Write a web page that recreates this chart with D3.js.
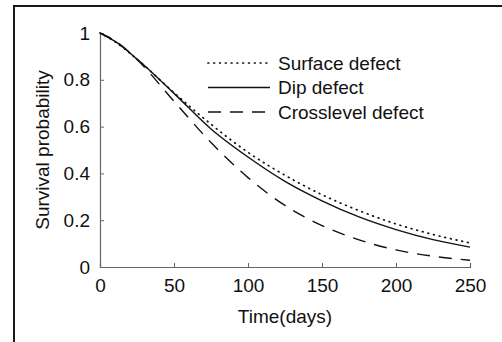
<!DOCTYPE html>
<html>
<head>
<meta charset="utf-8">
<script src="https://cdn.jsdelivr.net/npm/d3@7"></script>
<style>
  body { margin: 0; background: #fff; }
  svg text { font-family: Arial, 'Liberation Sans', sans-serif; fill: #111; }
</style>
</head>
<body>
<div id="chart"></div>
<script>
// values
const days = [0, 10, 25, 50, 75, 100, 125, 150, 175, 200, 225, 250]
const surfaceDefect = [1, 0.963, 0.888, 0.745, 0.610, 0.490, 0.392, 0.309, 0.241, 0.184, 0.139, 0.103]
const dipDefect = [1, 0.965, 0.889, 0.742, 0.590, 0.470, 0.366, 0.283, 0.214, 0.160, 0.117, 0.085]
const crosslevelDefect = [1, 0.967, 0.887, 0.708, 0.532, 0.382, 0.263, 0.177, 0.116, 0.073, 0.046, 0.029]
const xTicks = [0, 50, 100, 150, 200, 250]
const yTicks = [0, 0.2, 0.4, 0.6, 0.8, 1]

const series = [
  { name: 'Surface defect', values: surfaceDefect, dash: '0.8,5', cap: 'round', width: 1.7 },
  { name: 'Dip defect', values: dipDefect, dash: null, cap: 'butt', width: 1.4 },
  { name: 'Crosslevel defect', values: crosslevelDefect, dash: '13,9', cap: 'butt', width: 1.4 }
]

const dimensions = {
  width: 502,
  height: 342,
  margin: { top: 33, right: 32, bottom: 75, left: 100 }
}
const innerW = dimensions.width - dimensions.margin.left - dimensions.margin.right
const innerH = dimensions.height - dimensions.margin.top - dimensions.margin.bottom

const svg = d3.select('#chart').append('svg')
  .attr('width', dimensions.width)
  .attr('height', dimensions.height)

// outer frame
svg.append('rect')
  .attr('x', 14).attr('y', 6)
  .attr('width', 600).attr('height', 600)
  .attr('fill', 'none')
  .attr('stroke', '#1a1a1a')
  .attr('stroke-width', 2)

const bounds = svg.append('g')
  .attr('transform', `translate(${dimensions.margin.left}, ${dimensions.margin.top})`)

const xScale = d3.scaleLinear().domain([0, 250]).range([0, innerW])
const yScale = d3.scaleLinear().domain([0, 1]).range([innerH, 0])

const xAxis = bounds.append('g')
  .attr('transform', `translate(0, ${innerH})`)
  .call(d3.axisBottom(xScale).tickValues(xTicks).tickSize(-4).tickPadding(12).tickFormat(d3.format('d')))
const yAxis = bounds.append('g')
  .call(d3.axisLeft(yScale).tickValues(yTicks).tickSize(-4).tickPadding(10).tickFormat(d => d === 0 || d === 1 ? d : d3.format('.1f')(d)))

;[xAxis, yAxis].forEach(ax => {
  ax.select('.domain').attr('stroke', '#666').attr('stroke-width', 1.2)
  ax.selectAll('.tick line').attr('stroke', '#666')
  ax.selectAll('.tick text')
    .style('font-size', '19px')
    .attr('fill', '#111')
})
xAxis.selectAll('.tick text').attr('dy', '0.68em')

const line = d3.line()
  .x((d, i) => xScale(days[i]))
  .y(d => yScale(d))
  .curve(d3.curveMonotoneX)

bounds.selectAll('.series')
  .data(series)
  .join('path')
  .attr('class', 'series')
  .attr('d', d => line(d.values))
  .attr('fill', 'none')
  .attr('stroke', '#111')
  .attr('stroke-width', d => d.width)
  .attr('stroke-linecap', d => d.cap)
  .attr('stroke-dasharray', d => d.dash)

// legend
const legend = svg.append('g')
  .attr('transform', 'translate(207, 63)')
const rows = legend.selectAll('g')
  .data(series)
  .join('g')
  .attr('transform', (d, i) => `translate(0, ${i * 24.5})`)
rows.append('line')
  .attr('x1', 1).attr('x2', 63)
  .attr('stroke', '#111')
  .attr('stroke-width', d => d.width)
  .attr('stroke-linecap', d => d.cap)
  .attr('stroke-dasharray', d => d.dash)
rows.append('text')
  .attr('x', 71)
  .attr('dy', '0.35em')
  .style('font-size', '19px')
  .text(d => d.name)

// axis titles
svg.append('text')
  .attr('x', dimensions.margin.left + innerW / 2)
  .attr('y', 323)
  .attr('text-anchor', 'middle')
  .style('font-size', '19px')
  .text('Time(days)')

svg.append('text')
  .attr('transform', `translate(49, ${dimensions.margin.top + innerH / 2}) rotate(-90)`)
  .attr('text-anchor', 'middle')
  .style('font-size', '19px')
  .text('Survival probability')
</script>
</body>
</html>
